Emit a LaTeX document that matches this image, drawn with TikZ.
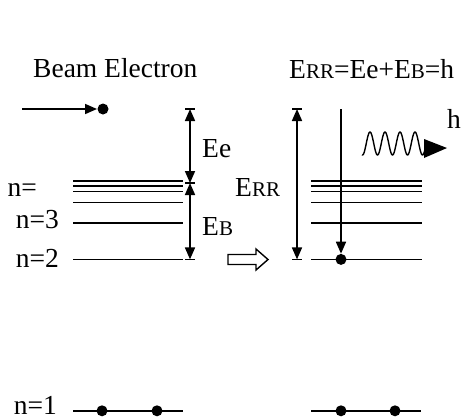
\documentclass[tikz,border=0pt]{standalone}
\usepackage{fontspec}
\setmainfont{Liberation Serif}
\usetikzlibrary{arrows.meta}
\newcommand{\mysc}[1]{{\fontsize{21}{22}\selectfont #1}}
\begin{document}
\begin{tikzpicture}[x=1pt,y=-1pt,
  ln/.style={line width=1.7pt},
  txt/.style={inner sep=0pt,font=\fontsize{27.5}{30}\selectfont},
  tipend/.style={ln,-{Triangle[length=12pt,width=10pt]}},
  tipboth/.style={ln,{Triangle[length=12pt,width=10pt]}-{Triangle[length=12pt,width=10pt]}},
  edot/.style={circle,fill=black,inner sep=0pt,minimum size=11pt}
]
\useasboundingbox (0,0) rectangle (462,418);

% texts
\node[txt,anchor=base west] (tbeam) at (33,77) {Beam Electron};
\node[txt,anchor=base west] (thead) at (289,78) {E\mysc{RR}=Ee+E\mysc{B}=h};
\node[txt,anchor=base west] (tee) at (202,157) {Ee};
\node[txt,anchor=base west] (teb) at (202,235) {E\mysc{B}};
\node[txt,anchor=base west] (terr) at (235,196) {E\mysc{RR}};
\node[txt,anchor=base west] (th) at (447,128) {h};
\node[txt,anchor=base east] (ninf) at (37,196) {n=};
\node[txt,anchor=base east] (n3) at (59,228.5) {n=3};
\node[txt,anchor=base east] (n2) at (59,267) {n=2};
\node[txt,anchor=base east] (n1) at (57,414.5) {n=1};

% energy levels
\foreach \yy in {181,186.3,191.6,202.5,222.7,259.4}{
  \draw[ln] (73,\yy) -- (183,\yy);
  \draw[ln] (311,\yy) -- (422,\yy);
}
\draw[ln] (73,410.8) -- (183,410.8);
\draw[ln] (311,410.8) -- (421,410.8);

% beam electron
\coordinate (bs) at (22,109);
\node[edot] (bd) at (103,109) {};
\draw[tipend] (bs) -- (97,109);

% left double arrows
\coordinate (la) at (190,109);
\coordinate (lb) at (190,183);
\coordinate (lc) at (190,259.4);
\foreach \c in {la,lb,lc}{\draw[ln] ([xshift=-5pt]\c) -- ([xshift=5pt]\c);}
\draw[tipboth] (la) -- (lb);
\draw[tipboth] (lb) -- (lc);

% hollow arrow
\draw[line width=1.4pt] (228,254.5) -- (256,254.5) -- (256,249) -- (268,259.5) -- (256,270) -- (256,264.5) -- (228,264.5) -- cycle;

% right ERR arrow
\coordinate (ra) at (297,109);
\coordinate (rb) at (297,259.4);
\foreach \c in {ra,rb}{\draw[ln] ([xshift=-5pt]\c) -- ([xshift=5pt]\c);}
\draw[tipboth] (ra) -- (rb);

% captured electron
\coordinate (ct) at (341,109);
\node[edot] (cd) at (341,259.4) {};
\draw[tipend] (ct) -- (cd.north);

% photon
\draw[line width=1.4pt] plot[domain=0:63,samples=160,smooth] ({362+\x},{143.5-11.5*cos((\x-8)/15*360)});
\fill (424,139) -- (447,148) -- (424,158) -- cycle;

% n=1 electrons
\node[edot] (e1) at (102,410.8) {};
\node[edot] (e2) at (157,410.8) {};
\node[edot] (e3) at (341,410.8) {};
\node[edot] (e4) at (395,410.8) {};
\end{tikzpicture}
\end{document}
